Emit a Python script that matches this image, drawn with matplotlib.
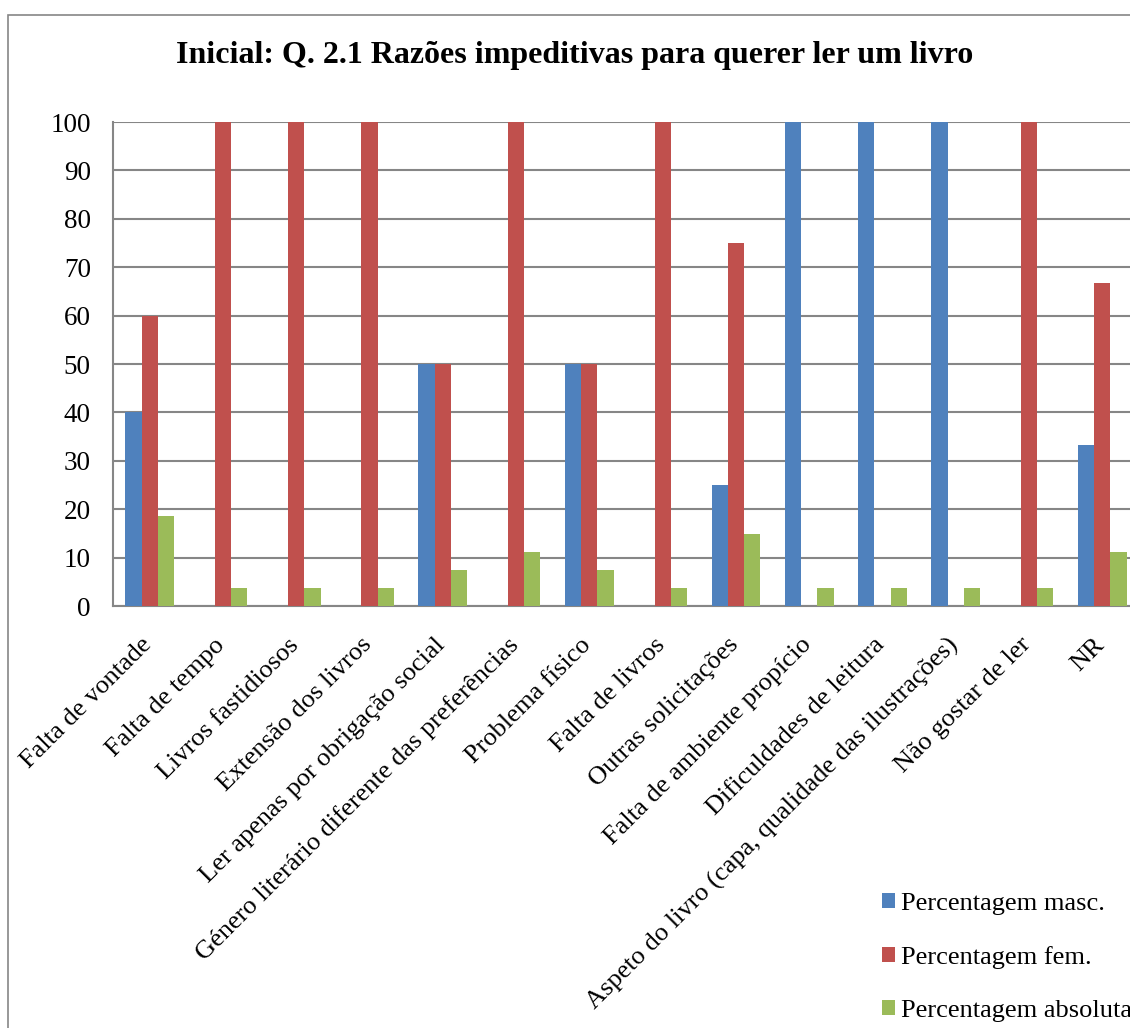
import numpy as np
import matplotlib
matplotlib.use('Agg')
import matplotlib.pyplot as plt
from matplotlib.patches import Rectangle
from matplotlib.transforms import ScaledTranslation

plt.rcParams['font.family'] = ['Liberation Serif', 'DejaVu Serif']

# %% data
categorias = ['Falta de vontade', 'Falta de tempo', 'Livros fastidiosos',
              'Extensão dos livros', 'Ler apenas por obrigação social',
              'Género literário diferente das preferências', 'Problema físico',
              'Falta de livros', 'Outras solicitações', 'Falta de ambiente propício',
              'Dificuldades de leitura',
              'Aspeto do livro (capa, qualidade das ilustrações)',
              'Não gostar de ler', 'NR']
masc = [40, 0, 0, 0, 50, 0, 50, 0, 25, 100, 100, 100, 0, 33.3]
fem = [60, 100, 100, 100, 50, 100, 50, 100, 75, 0, 0, 0, 100, 66.7]
absoluta = [18.5, 3.7, 3.7, 3.7, 7.4, 11.1, 7.4, 3.7, 14.8, 3.7, 3.7, 3.7, 3.7, 11.1]
series = ['Percentagem masc.', 'Percentagem fem.', 'Percentagem absoluta']
cores = ['#4F81BD', '#C0504D', '#9BBB59']
yticks = list(range(0, 101, 10))

# %% figure
W, H = 1130, 1028
fig = plt.figure(figsize=(W / 100, H / 100), dpi=100)
fig.patches.append(Rectangle((8 / W, -0.1), 1.2, 1 - 15 / H + 0.1, transform=fig.transFigure,
                             fill=False, edgecolor='#868686', linewidth=1.2))

ax = fig.add_axes([113 / W, 1 - 606 / H, 1026 / W, 484 / H])
x = np.arange(len(categorias))
bw = 0.222
for i, (vals, cor, nome) in enumerate(zip([masc, fem, absoluta], cores, series)):
    ax.bar(x + (i - 1) * bw, vals, bw, color=cor, label=nome, zorder=3)

ax.set_xlim(-0.5, len(categorias) - 0.5)
ax.set_ylim(0, 100)
ax.set_yticks(yticks)
ax.yaxis.grid(True, color='#868686', linewidth=1.5, zorder=0)
for s in ['top', 'right']:
    ax.spines[s].set_visible(False)
for s in ['left', 'bottom']:
    ax.spines[s].set_color('#868686')
    ax.spines[s].set_linewidth(1.5)
ax.tick_params(axis='y', length=0, labelsize=19.5, pad=16)
ax.tick_params(axis='x', length=0, labelsize=19, pad=20)
ax.set_xticks(x)
ax.set_xticklabels(categorias, rotation=45, ha='right', va='top', rotation_mode='anchor')
off = ScaledTranslation(-9 / 100, 0, fig.dpi_scale_trans)
for lab in ax.get_xticklabels():
    lab.set_transform(lab.get_transform() + off)

fig.text(575 / W, 1 - 56 / H, 'Inicial: Q. 2.1 Razões impeditivas para querer ler um livro',
         ha='center', va='center', fontsize=23, fontweight='bold')

fig.legend(loc='upper left', bbox_to_anchor=(871 / W, 1 - 882 / H), frameon=False,
           fontsize=19, handlelength=0.5, handleheight=0.5, handletextpad=0.25,
           labelspacing=1.18, borderaxespad=0)

fig.savefig('out.png', dpi=100)
